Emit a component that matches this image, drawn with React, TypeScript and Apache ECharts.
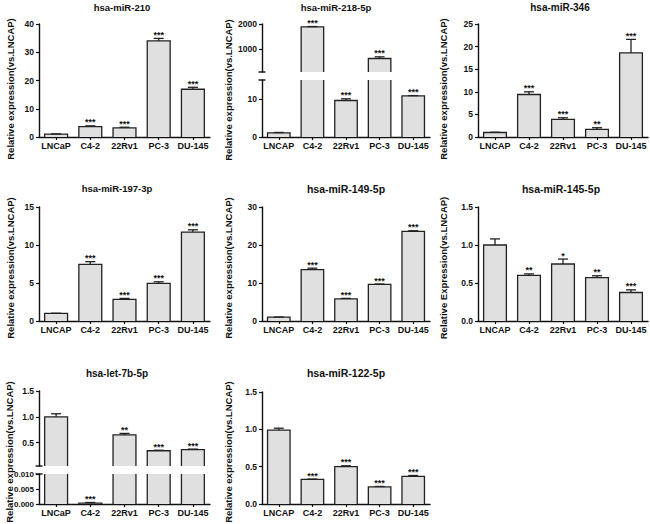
import React, { useEffect, useRef } from 'react';
import * as echarts from 'echarts';

const catsLNCaP = ['LNCaP', 'C4-2', '22Rv1', 'PC-3', 'DU-145'];
const catsLNCAP = ['LNCAP', 'C4-2', '22Rv1', 'PC-3', 'DU-145'];

const miR210Values = [1.0, 3.7, 3.2, 34.0, 16.9];
const miR210Errors = [0.1, 0.25, 0.25, 0.9, 0.7];
const miR210Stars = ['', '***', '***', '***', '***'];

const miR218Values = [1.1, 1890, 9.6, 635, 10.8];
const miR218Errors = [0.1, 10, 0.45, 65, 0.1];
const miR218Stars = ['', '***', '***', '***', '***'];

const miR346Values = [1.0, 9.4, 3.9, 1.7, 18.6];
const miR346Errors = [0.05, 0.6, 0.35, 0.35, 3.0];
const miR346Stars = ['', '***', '***', '**', '***'];

const miR197Values = [1.0, 7.46, 2.85, 4.96, 11.7];
const miR197Errors = [0.02, 0.35, 0.12, 0.2, 0.3];
const miR197Stars = ['', '***', '***', '***', '***'];

const miR149Values = [1.0, 13.5, 5.8, 9.65, 23.6];
const miR149Errors = [0.05, 0.4, 0.15, 0.08, 0.15];
const miR149Stars = ['', '***', '***', '***', '***'];

const miR145Values = [1.0, 0.6, 0.75, 0.57, 0.375];
const miR145Errors = [0.08, 0.02, 0.065, 0.025, 0.035];
const miR145Stars = ['', '**', '*', '**', '***'];

const let7bValues = [1.0, 0.0003, 0.65, 0.345, 0.365];
const let7bErrors = [0.06, 0.0002, 0.03, 0.01, 0.012];
const let7bStars = ['', '***', '**', '***', '***'];

const miR122Values = [0.99, 0.33, 0.5, 0.23, 0.37];
const miR122Errors = [0.025, 0.004, 0.012, 0.005, 0.012];
const miR122Stars = ['', '***', '***', '***', '***'];

const yLabelLower = 'Relative expression(vs.LNCAP)';
const yLabelUpper = 'Relative Expression(vs.LNCAP)';

const FONT = '"Liberation Sans", Arial, Helvetica, sans-serif';
const INK = '#111';
const FILL = '#e0e0e0';

type Seg = { top: number; height: number; min: number; max: number; interval?: number; ticks?: number[]; digits: number; labelSize?: number };
type Panel = {
  title: string; titleX: number; titleY: number; titleSize: number;
  left: number; width: number; cats: string[];
  values: number[]; errors: number[]; stars: string[];
  ylabel: string; ylabelX: number; ylabelY: number;
  segs: Seg[];
};

const panels: Panel[] = [
  { title: 'hsa-miR-210', titleX: 122, titleY: 7.5, titleSize: 9.5, left: 39, width: 171, cats: catsLNCaP,
    values: miR210Values, errors: miR210Errors, stars: miR210Stars, ylabel: yLabelLower, ylabelX: 10, ylabelY: 89,
    segs: [{ top: 24, height: 113, min: 0, max: 40, interval: 10, digits: 0 }] },
  { title: 'hsa-miR-218-5p', titleX: 336, titleY: 7.5, titleSize: 9.5, left: 262, width: 168, cats: catsLNCAP,
    values: miR218Values, errors: miR218Errors, stars: miR218Stars, ylabel: yLabelLower, ylabelX: 228, ylabelY: 90,
    segs: [
      { top: 24, height: 48, min: 100, max: 2000, ticks: [1000, 2000], digits: 0 },
      { top: 80, height: 57, min: 0, max: 15, ticks: [0, 10], digits: 0 },
    ] },
  { title: 'hsa-miR-346', titleX: 560, titleY: 7.5, titleSize: 10, left: 478, width: 170, cats: catsLNCAP,
    values: miR346Values, errors: miR346Errors, stars: miR346Stars, ylabel: yLabelLower, ylabelX: 443, ylabelY: 89,
    segs: [{ top: 24, height: 113, min: 0, max: 25, interval: 5, digits: 0 }] },
  { title: 'hsa-miR-197-3p', titleX: 117, titleY: 188, titleSize: 9.5, left: 39, width: 171, cats: catsLNCAP,
    values: miR197Values, errors: miR197Errors, stars: miR197Stars, ylabel: yLabelLower, ylabelX: 10, ylabelY: 268,
    segs: [{ top: 207, height: 114, min: 0, max: 15, interval: 5, digits: 0 }] },
  { title: 'hsa-miR-149-5p', titleX: 346, titleY: 188.5, titleSize: 10.5, left: 262, width: 168, cats: catsLNCAP,
    values: miR149Values, errors: miR149Errors, stars: miR149Stars, ylabel: yLabelLower, ylabelX: 228, ylabelY: 268,
    segs: [{ top: 207, height: 114, min: 0, max: 30, interval: 10, digits: 0 }] },
  { title: 'hsa-miR-145-5p', titleX: 561, titleY: 188.5, titleSize: 10.5, left: 478, width: 170, cats: catsLNCAP,
    values: miR145Values, errors: miR145Errors, stars: miR145Stars, ylabel: yLabelUpper, ylabelX: 443, ylabelY: 268,
    segs: [{ top: 207, height: 114, min: 0, max: 1.5, interval: 0.5, digits: 1 }] },
  { title: 'hsa-let-7b-5p', titleX: 117, titleY: 373, titleSize: 10, left: 39, width: 171, cats: catsLNCaP,
    values: let7bValues, errors: let7bErrors, stars: let7bStars, ylabel: yLabelLower, ylabelX: 9, ylabelY: 452,
    segs: [
      { top: 391, height: 75, min: 0.05, max: 1.5, ticks: [0.5, 1.0, 1.5], digits: 1 },
      { top: 474, height: 30, min: 0, max: 0.01, interval: 0.005, digits: 3, labelSize: 8 },
    ] },
  { title: 'hsa-miR-122-5p', titleX: 346, titleY: 373, titleSize: 10.5, left: 262, width: 168, cats: catsLNCAP,
    values: miR122Values, errors: miR122Errors, stars: miR122Stars, ylabel: yLabelLower, ylabelX: 228, ylabelY: 452,
    segs: [{ top: 392, height: 112, min: 0, max: 1.5, interval: 0.5, digits: 1 }] },
];

function makeRender(stars: string[], segMin: number, segMax: number) {
  return (params: any, api: any) => {
    const i = api.value(0);
    const v = api.value(1);
    const e = api.value(2);
    const cs = params.coordSys;
    const gTop = cs.y;
    const gBot = cs.y + cs.height;
    const band = api.size([1, 0])[0];
    const bw = band * 0.67;
    const p = api.coord([i, v]);
    const cx = p[0];
    const yv = p[1];
    const y0 = api.coord([i, 0])[1];
    const yTop = Math.max(gTop, Math.min(gBot, yv));
    const yBase = Math.max(gTop, Math.min(gBot, y0));
    const children: any[] = [];
    if (yBase - yTop < 0.3) return { type: 'group', children };
    const l = cx - bw / 2;
    const r = cx + bw / 2;
    const stroke = { stroke: '#222', lineWidth: 1.3, fill: 'none' };
    children.push({ type: 'rect', shape: { x: l, y: yTop, width: bw, height: yBase - yTop }, style: { fill: FILL } });
    if (v <= segMax) {
      children.push({ type: 'polyline', shape: { points: [[l, yBase], [l, yTop], [r, yTop], [r, yBase]] }, style: stroke });
    } else {
      children.push({ type: 'line', shape: { x1: l, y1: yBase, x2: l, y2: yTop }, style: stroke });
      children.push({ type: 'line', shape: { x1: r, y1: yBase, x2: r, y2: yTop }, style: stroke });
    }
    if (v >= segMin && v <= segMax) {
      const ye = api.coord([i, v + e])[1];
      const cap = bw * 0.22;
      children.push({ type: 'line', shape: { x1: cx, y1: yv, x2: cx, y2: ye }, style: stroke });
      children.push({ type: 'line', shape: { x1: cx - cap, y1: ye, x2: cx + cap, y2: ye }, style: stroke });
      if (stars[i]) {
        children.push({
          type: 'text', x: cx, y: ye + 1,
          style: { text: stars[i], align: 'center', verticalAlign: 'bottom', fontSize: 9, fontWeight: 'bold', fontFamily: FONT, fill: INK },
        });
      }
    }
    return { type: 'group', children };
  };
}

function buildOption() {
  const grid: any[] = [];
  const xAxis: any[] = [];
  const yAxis: any[] = [];
  const series: any[] = [];
  const graphic: any[] = [];

  panels.forEach((pn) => {
    graphic.push({
      type: 'text', x: pn.titleX, y: pn.titleY,
      style: { text: pn.title, align: 'center', verticalAlign: 'middle', fontSize: pn.titleSize, fontWeight: 'bold', fontFamily: FONT, fill: INK },
    });
    graphic.push({
      type: 'text', x: pn.ylabelX, y: pn.ylabelY, rotation: Math.PI / 2,
      style: { text: pn.ylabel, align: 'center', verticalAlign: 'middle', fontSize: 9.5, fontWeight: 'bold', fontFamily: FONT, fill: INK },
    });
    const nSeg = pn.segs.length;
    pn.segs.forEach((sg, k) => {
      const g = grid.length;
      const isBottom = k === nSeg - 1;
      const isTopSeg = k === 0;
      grid.push({ left: pn.left, top: sg.top, width: pn.width, height: sg.height, containLabel: false });
      xAxis.push({
        type: 'category', gridIndex: g, data: pn.cats, show: isBottom,
        axisLine: { show: true, lineStyle: { color: INK, width: 1.4 } },
        axisTick: { show: true, alignWithLabel: true, length: 3, lineStyle: { color: INK, width: 1.2 } },
        axisLabel: { interval: 0, fontSize: 9, fontWeight: 'bold', fontFamily: FONT, color: INK, margin: 4 },
      });
      const symStart = nSeg > 1 && !isBottom ? 'rect' : 'none';
      const symEnd = nSeg > 1 && !isTopSeg ? 'rect' : 'none';
      const y: any = {
        type: 'value', gridIndex: g, min: sg.min, max: sg.max,
        splitLine: { show: false },
        axisLine: { show: true, lineStyle: { color: INK, width: 1.4 }, symbol: [symStart, symEnd], symbolSize: [7, 1.4] },
        axisTick: { show: true, length: 3, lineStyle: { color: INK, width: 1.2 } },
        axisLabel: {
          fontSize: sg.labelSize ?? 8.5, fontWeight: 'bold', fontFamily: FONT, color: INK, margin: 5,
          formatter: (val: number) => Number(val).toFixed(sg.digits),
        },
      };
      if (sg.interval !== undefined) y.interval = sg.interval;
      if (sg.ticks) {
        y.axisTick.customValues = sg.ticks;
        y.axisLabel.customValues = sg.ticks;
      }
      yAxis.push(y);
      series.push({
        type: 'custom', xAxisIndex: g, yAxisIndex: g,
        renderItem: makeRender(pn.stars, sg.min, sg.max),
        encode: { x: 0, y: 1 },
        data: pn.values.map((v, i) => [i, v, pn.errors[i]]),
        z: 3,
      });
    });
  });

  return { animation: false, backgroundColor: '#ffffff', grid, xAxis, yAxis, series, graphic };
}

export default function App() {
  const ref = useRef<HTMLDivElement | null>(null);
  useEffect(() => {
    if (!ref.current) return;
    const chart = echarts.init(ref.current, undefined, { renderer: 'svg' });
    chart.setOption(buildOption() as any);
    return () => chart.dispose();
  }, []);
  return <div ref={ref} style={{ position: 'fixed', left: 0, top: 0, width: 650, height: 524, background: '#fff' }} />;
}
